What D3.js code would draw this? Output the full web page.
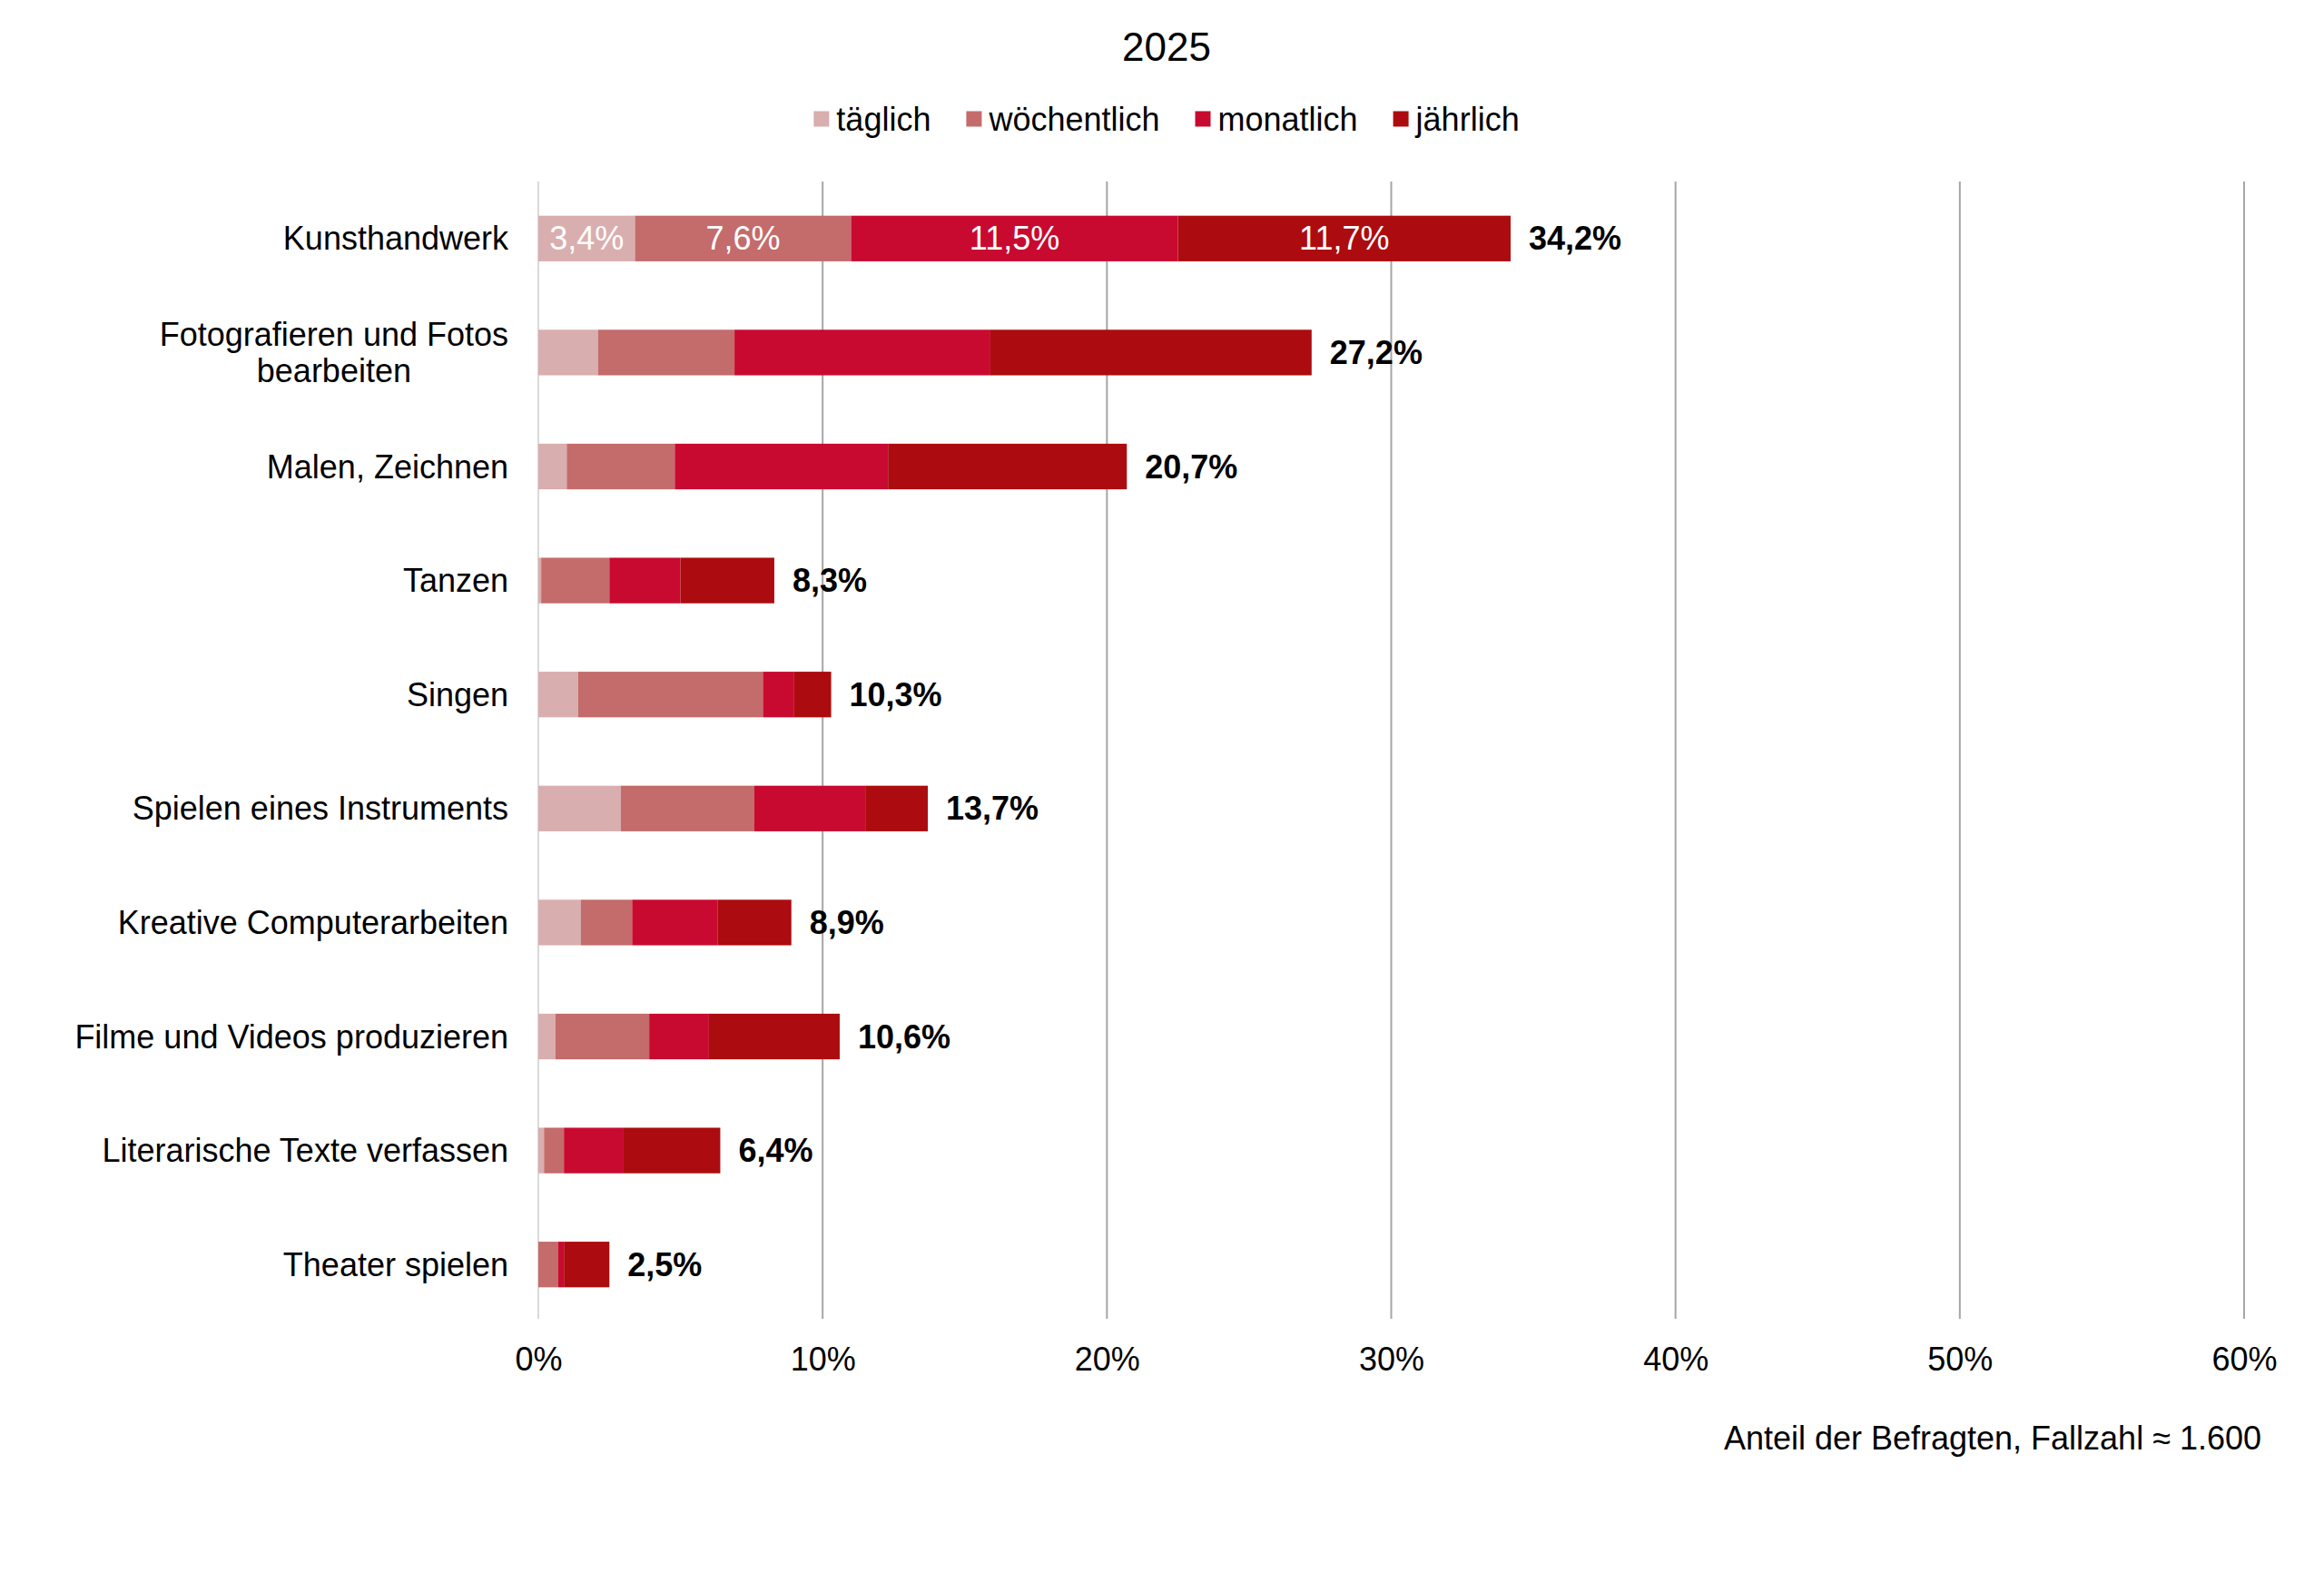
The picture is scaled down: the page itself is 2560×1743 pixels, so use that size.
<!DOCTYPE html>
<html lang="de">
<head>
<meta charset="utf-8">
<script src="https://cdn.jsdelivr.net/npm/d3@7"></script>
<style>
  body { margin: 0; background: #fff; }
  svg { display: block; font-family: Arial, "Liberation Sans", sans-serif; }
</style>
</head>
<body>
<svg id="chart" width="2560" height="1743"></svg>
<script>
// Daten (Anteil in %)
const categories = [
  "Kunsthandwerk",
  "Fotografieren und Fotos bearbeiten",
  "Malen, Zeichnen",
  "Tanzen",
  "Singen",
  "Spielen eines Instruments",
  "Kreative Computerarbeiten",
  "Filme und Videos produzieren",
  "Literarische Texte verfassen",
  "Theater spielen"
];
const taeglich     = [3.4, 2.1, 1.0, 0.1, 1.4, 2.9, 1.5, 0.6, 0.2, 0.0];
const woechentlich = [7.6, 4.8, 3.8, 2.4, 6.5, 4.7, 1.8, 3.3, 0.7, 0.7];
const monatlich    = [11.5, 9.0, 7.5, 2.5, 1.1, 3.9, 3.0, 2.1, 2.1, 0.2];
const jaehrlich    = [11.7, 11.3, 8.4, 3.3, 1.3, 2.2, 2.6, 4.6, 3.4, 1.6];
const gesamt       = [34.2, 27.2, 20.7, 8.3, 10.3, 13.7, 8.9, 10.6, 6.4, 2.5];

const seriesNames = ["täglich", "wöchentlich", "monatlich", "jährlich"];
const seriesKeys = ["taeglich", "woechentlich", "monatlich", "jaehrlich"];
const colors = ["#D9AEAE", "#C46B6B", "#C80A30", "#AC0C0F"];
const xTicks = [0, 10, 20, 30, 40, 50, 60];
const labelledRows = ["Kunsthandwerk"]; // Zeilen mit Werten in den Balken

// Zeilenumbruch wie im Original
const labelLines = {
  "Fotografieren und Fotos bearbeiten": ["Fotografieren und Fotos", "bearbeiten"]
};

const rows = categories.map((c, i) => ({
  category: c,
  taeglich: taeglich[i],
  woechentlich: woechentlich[i],
  monatlich: monatlich[i],
  jaehrlich: jaehrlich[i],
  total: gesamt[i]
}));

const de = d3.formatLocale({ decimal: ",", thousands: ".", grouping: [3], currency: ["", "€"] });
const fmt = v => de.format(".1f")(v) + "%";

const svg = d3.select("#chart");
const fontSize = 36;

const x = d3.scaleLinear().domain([0, 60]).range([593, 2472]);
const y = d3.scaleBand().domain(categories).range([200, 1456])
  .paddingInner(0.6).paddingOuter(0.3);

// Gitterlinien
svg.append("g")
  .selectAll("line")
  .data(xTicks)
  .join("line")
  .attr("x1", d => x(d)).attr("x2", d => x(d))
  .attr("y1", 200).attr("y2", 1453)
  .attr("stroke", d => d === 0 ? "#D9D9D9" : "#A6A6A6")
  .attr("stroke-width", 2);

// Achsenbeschriftung unten
const xAxis = d3.axisBottom(x).tickValues(xTicks).tickFormat(d => d + "%").tickSize(0).tickPadding(0);
svg.append("g")
  .attr("transform", "translate(0,1484)")
  .call(xAxis)
  .call(g => g.select(".domain").remove())
  .call(g => g.selectAll("text")
    .attr("font-size", fontSize)
    .attr("font-family", null)
    .attr("fill", "#000")
    .attr("dy", "0.71em"));

// gestapelte Balken
const stack = d3.stack().keys(seriesKeys);
const stacked = stack(rows);

svg.append("g")
  .selectAll("g")
  .data(stacked)
  .join("g")
  .attr("fill", (d, i) => colors[i])
  .selectAll("rect")
  .data(d => d)
  .join("rect")
  .attr("x", d => x(d[0]))
  .attr("y", d => y(d.data.category))
  .attr("width", d => Math.max(0, x(d[1]) - x(d[0])))
  .attr("height", y.bandwidth());

// Werte in den Balken
svg.append("g")
  .selectAll("g")
  .data(stacked)
  .join("g")
  .selectAll("text")
  .data(d => d.filter(s => labelledRows.includes(s.data.category)))
  .join("text")
  .attr("x", d => (x(d[0]) + x(d[1])) / 2)
  .attr("y", d => y(d.data.category) + y.bandwidth() / 2)
  .attr("dy", "0.35em")
  .attr("text-anchor", "middle")
  .attr("font-size", fontSize)
  .attr("fill", "#fff")
  .text(d => fmt(d[1] - d[0]));

// Summen
svg.append("g")
  .selectAll("text")
  .data(rows)
  .join("text")
  .attr("x", d => x(d3.sum(seriesKeys, k => d[k])) + 20)
  .attr("y", d => y(d.category) + y.bandwidth() / 2)
  .attr("dy", "0.35em")
  .attr("font-size", fontSize)
  .attr("font-weight", "bold")
  .attr("fill", "#000")
  .text(d => fmt(d.total));

// Kategorien
const catLabels = svg.append("g")
  .selectAll("text")
  .data(categories)
  .join("text")
  .attr("font-size", fontSize)
  .attr("fill", "#000")
  .attr("y", d => y(d) + y.bandwidth() / 2);

catLabels.each(function(d) {
  const t = d3.select(this);
  const lines = labelLines[d];
  if (!lines) {
    t.attr("x", 560).attr("text-anchor", "end").attr("dy", "0.35em").text(d);
  } else {
    t.attr("text-anchor", "middle");
    const spans = t.selectAll("tspan").data(lines).join("tspan").text(l => l);
    const w = spans.nodes()[0].getComputedTextLength();
    const cx = 560 - w / 2;
    spans.attr("x", cx).attr("dy", (l, i) => i === 0 ? "-0.2em" : "1.1em");
  }
});

// Titel
svg.append("text")
  .attr("x", 1285).attr("y", 52)
  .attr("dy", "0.35em")
  .attr("text-anchor", "middle")
  .attr("font-size", 44)
  .attr("fill", "#000")
  .text("2025");

// Legende
const legend = svg.append("g").attr("transform", "translate(0,131)");
const items = legend.selectAll("g")
  .data(seriesNames)
  .join("g");
items.append("rect")
  .attr("width", 17).attr("height", 17)
  .attr("y", -8.5)
  .attr("fill", (d, i) => colors[i]);
items.append("text")
  .attr("x", 25)
  .attr("dy", "0.35em")
  .attr("font-size", fontSize)
  .attr("fill", "#000")
  .text(d => d);
let lx = 0;
const offsets = [];
items.each(function() {
  offsets.push(lx);
  lx += 25 + this.querySelector("text").getComputedTextLength() + 39;
});
const legendWidth = lx - 39;
const lx0 = 1285 - legendWidth / 2;
items.attr("transform", (d, i) => `translate(${lx0 + offsets[i]},0)`);

// Fußnote
svg.append("text")
  .attr("x", 2491).attr("y", 1584)
  .attr("dy", "0.35em")
  .attr("text-anchor", "end")
  .attr("font-size", fontSize)
  .attr("fill", "#000")
  .text("Anteil der Befragten, Fallzahl ≈ 1.600");
</script>
</body>
</html>
